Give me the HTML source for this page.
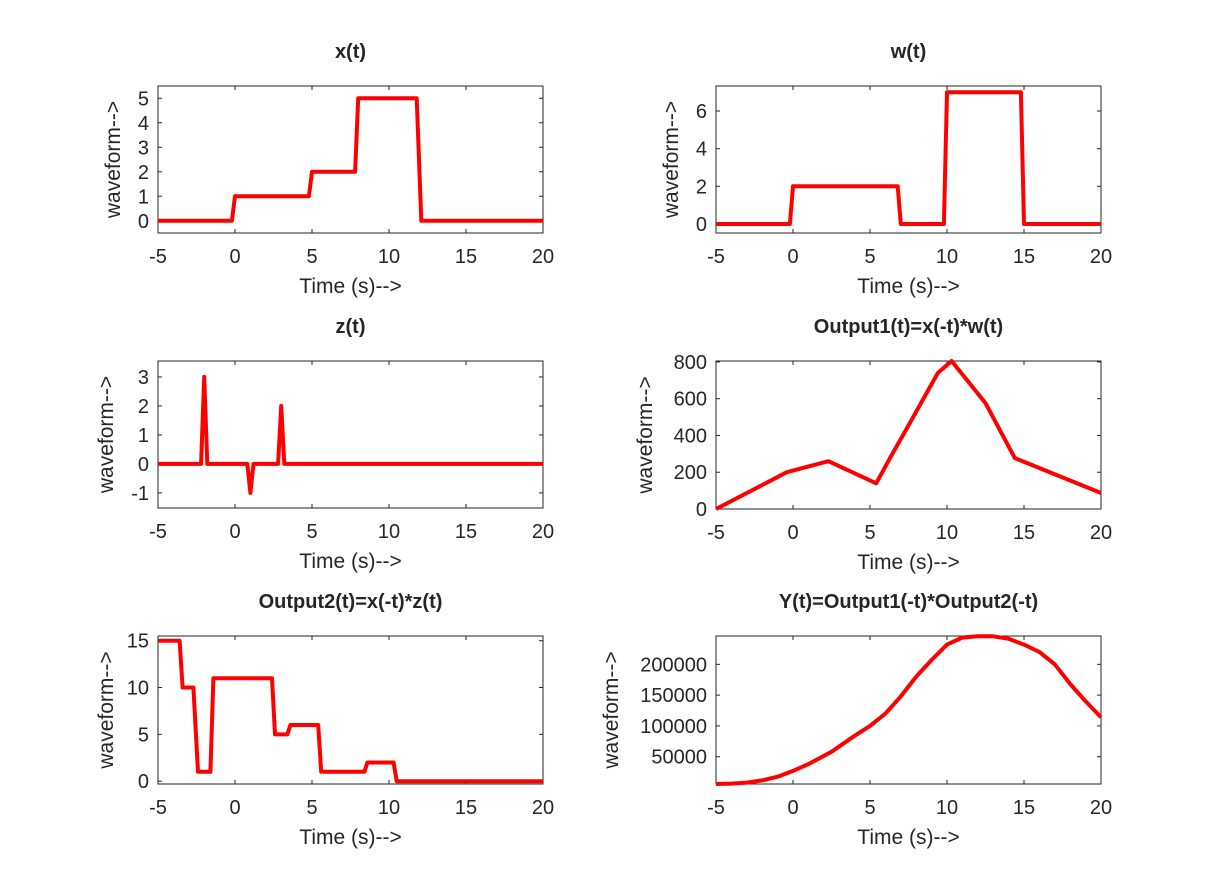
<!DOCTYPE html>
<html><head><meta charset="utf-8"><style>
body{margin:0;background:#fff;font-family:"Liberation Sans",sans-serif}
svg text{font-family:"Liberation Sans",sans-serif;fill:#262626}
</style></head><body>
<svg id="fig" width="1217" height="882"></svg>
<script>
// data arrays
const xT=[-5,-0.2,0,4.8,5,7.8,8,11.8,12.1,20];
const xV=[0,0,1,1,2,2,5,5,0,0];
const wT=[-5,-0.2,0,6.8,7,9.8,10,14.8,15,20];
const wV=[0,0,2,2,0,0,7,7,0,0];
const zT=[-5,-2.2,-2,-1.8,0.8,1,1.2,2.8,3,3.2,20];
const zV=[0,0,3,0,0,-1,0,0,2,0,0];
const o1T=[-5,-0.4,2.3,5.4,6.3,7.4,9.4,10.3,12.5,14.4,20];
const o1V=[0,200,260,140,277,440,740,805,576,277,87];
const o2T=[-5,-3.6,-3.4,-2.7,-2.4,-1.6,-1.4,2.4,2.6,3.4,3.6,5.4,5.6,8.4,8.6,10.3,10.5,20];
const o2V=[15,15,10,10,1,1,11,11,5,5,6,6,1,1,2,2,0,0];
const yT=[-5,-4,-3,-2,-1,0,1,2.5,4,5,6,7,8,9,10,11,12,13,14,15,16,17,18,19,20];
const yV=[5700,6300,8000,11500,17500,27000,38000,58000,84000,100000,120000,148000,180000,207000,232000,243500,245500,245500,241500,232000,220000,200000,168000,140000,114000];
const xTicks=[-5,0,5,10,15,20];
const plots=[
 {name:'x',title:'x(t)',l:158,t:86,r:543,b:233,ymin:-0.5,ymax:5.5,yt:[0,1,2,3,4,5],T:xT,V:xV,yl:120},
 {name:'w',title:'w(t)',l:716,t:86,r:1101,b:233,ymin:-0.48,ymax:7.33,yt:[0,2,4,6],T:wT,V:wV,yl:678},
 {name:'z',title:'z(t)',l:158,t:361,r:543,b:508,ymin:-1.52,ymax:3.55,yt:[-1,0,1,2,3],T:zT,V:zV,yl:113},
 {name:'output1',title:'Output1(t)=x(-t)*w(t)',l:716,t:361,r:1101,b:509,ymin:0,ymax:805,yt:[0,200,400,600,800],T:o1T,V:o1V,yl:652},
 {name:'output2',title:'Output2(t)=x(-t)*z(t)',l:158,t:636,r:543,b:784,ymin:-0.3,ymax:15.5,yt:[0,5,10,15],T:o2T,V:o2V,yl:113},
 {name:'y-output',title:'Y(t)=Output1(-t)*Output2(-t)',l:716,t:636,r:1101,b:784,ymin:5700,ymax:246000,yt:[50000,100000,150000,200000],T:yT,V:yV,yl:618}
];
const NS='http://www.w3.org/2000/svg';const svg=document.getElementById('fig');
function el(tag,attrs,parent,txt){const e=document.createElementNS(NS,tag);for(const k in attrs)e.setAttribute(k,attrs[k]);if(txt!==undefined)e.textContent=txt;parent.appendChild(e);return e;}
plots.forEach(p=>{
 const g=el('g',{},svg);
 
 
 const sx=v=>p.l+(v+5)/25*(p.r-p.l);
 const sy=v=>p.b-(v-p.ymin)/(p.ymax-p.ymin)*(p.b-p.t);
 const bg=el('rect',{x:p.l,y:p.t,width:p.r-p.l,height:p.b-p.t,fill:'#fff',stroke:'#262626','stroke-width':1},g);
 
 
 xTicks.forEach(v=>{const X=sx(v);
  el('line',{x1:X,x2:X,y1:p.b,y2:p.b-4,stroke:'#262626'},g);
  el('line',{x1:X,x2:X,y1:p.t,y2:p.t+4,stroke:'#262626'},g);
  const tx=el('text',{x:X,y:p.b+30,'font-size':20,'text-anchor':'middle'},g,String(v));
  
  
 });
 p.yt.forEach(v=>{const Y=sy(v);
  el('line',{x1:p.l,x2:p.l+4,y1:Y,y2:Y,stroke:'#262626'},g);
  el('line',{x1:p.r,x2:p.r-4,y1:Y,y2:Y,stroke:'#262626'},g);
  const tx=el('text',{x:p.l-9,y:Y+7,'font-size':20,'text-anchor':'end'},g,String(v));
  
  
 });
 const pts=p.T.map((t,i)=>sx(t).toFixed(1)+','+sy(p.V[i]).toFixed(1)).join(' ');
 const line=el('polyline',{points:pts,fill:'none',stroke:'#ff0000','stroke-width':4,'stroke-linejoin':'round'},g);
 
 
 const ti=el('text',{x:(p.l+p.r)/2,y:p.t-28,'font-size':20,'font-weight':'bold','text-anchor':'middle',fill:'#000'},g,p.title);
 
 
 const xl=el('text',{x:(p.l+p.r)/2,y:p.b+60,'font-size':21,'text-anchor':'middle'},g,'Time (s)-->');
 
 
 const cy=(p.t+p.b)/2;
 const yl=el('text',{x:p.yl,y:cy,'font-size':21,'text-anchor':'middle',transform:'rotate(-90 '+p.yl+' '+cy+')'},g,'waveform-->');
 
 
});
</script>
</body></html>
